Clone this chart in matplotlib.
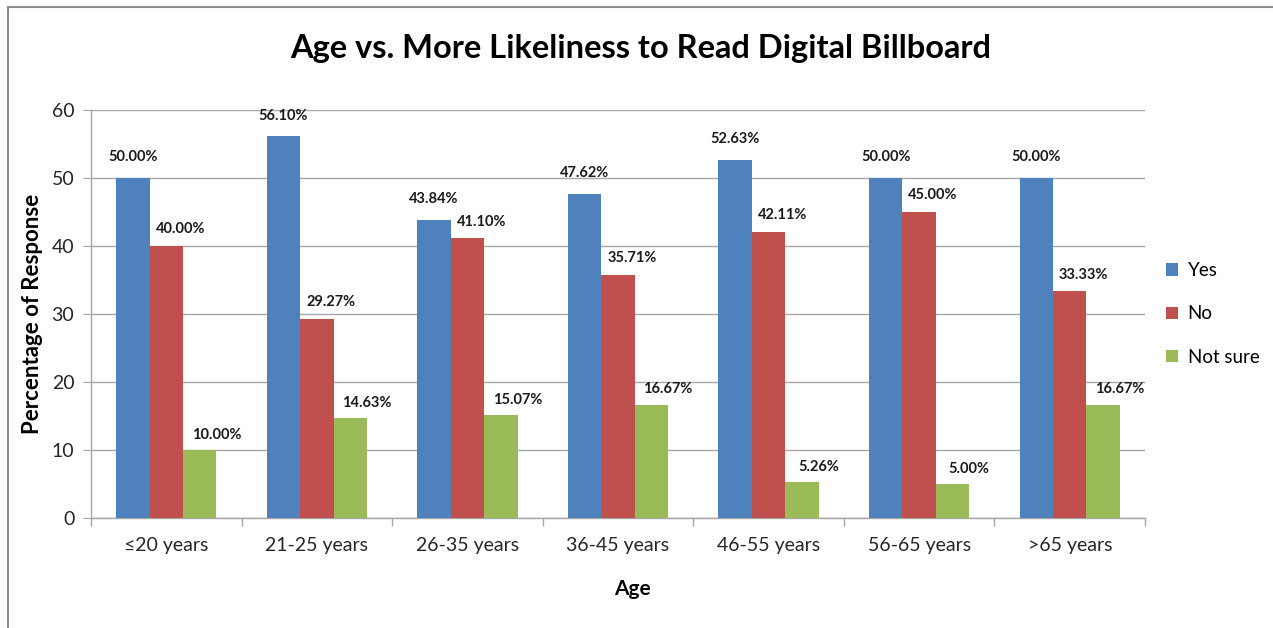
import matplotlib
matplotlib.use("Agg")
import matplotlib.pyplot as plt
import numpy as np
from matplotlib.lines import Line2D

categories = ["≤20 years", "21-25 years", "26-35 years", "36-45 years",
              "46-55 years", "56-65 years", ">65 years"]
yes = [50.00, 56.10, 43.84, 47.62, 52.63, 50.00, 50.00]
no = [40.00, 29.27, 41.10, 35.71, 42.11, 45.00, 33.33]
not_sure = [10.00, 14.63, 15.07, 16.67, 5.26, 5.00, 16.67]
series_names = ["Yes", "No", "Not sure"]

colors = ["#4F81BD", "#C0504D", "#9BBB59"]
grid_col = "#A6A6A6"
font = ["Lato", "DejaVu Sans"]

fig = plt.figure(figsize=(12.73, 6.28), dpi=100)
fig.patch.set_facecolor("white")
ax = fig.add_axes([0.0715, 0.1752, 0.828, 0.6497])

x = np.arange(len(categories))
w = 0.222
label_dx = [0, 10, 12]     # points, label shift to the right
label_dy = [15, 12, 11]    # points above bar top
for i, (vals, name) in enumerate(zip([yes, no, not_sure], series_names)):
    pos = x + (i - 1) * w
    bars = ax.bar(pos, vals, width=w, color=colors[i], label=name, zorder=3)
    for b, v in zip(bars, vals):
        ax.annotate(f"{v:.2f}%", (b.get_x() + b.get_width() / 2, v),
                    xytext=(label_dx[i], label_dy[i]), textcoords="offset points",
                    ha="center", va="center", fontsize=10.5, fontweight="bold",
                    color="#1a1a1a", family=font)

ax.set_xlim(-0.5, len(categories) - 0.5)
ax.set_ylim(0, 60)
ax.set_yticks(range(0, 61, 10))
ax.set_xticks(x)
ax.set_xticklabels(categories)
ax.set_xticks(np.arange(-0.5, len(categories), 1), minor=True)
ax.tick_params(axis="x", which="major", length=0, pad=14, labelsize=14, labelcolor="#262626")
ax.tick_params(axis="x", which="minor", length=6, color=grid_col, width=1)
ax.tick_params(axis="y", length=6, color=grid_col, labelsize=14, labelcolor="#262626", pad=6)
for lab in ax.get_xticklabels() + ax.get_yticklabels():
    lab.set_family(font)

ax.grid(axis="y", color=grid_col, linewidth=1, zorder=0)
for s in ["top", "right"]:
    ax.spines[s].set_visible(False)
for s in ["left", "bottom"]:
    ax.spines[s].set_color(grid_col)
    ax.spines[s].set_linewidth(1)

ax.set_xlabel("Age", fontsize=15, fontweight="bold", family=font, labelpad=18)
ax.xaxis.label.set_x(0.514)
ax.set_ylabel("Percentage of Response", fontsize=16, fontweight="bold", family=font, labelpad=6)

fig.text(0.503, 0.922, "Age vs. More Likeliness to Read Digital Billboard",
         ha="center", va="center", fontsize=23.5, fontweight="bold", family=font)

leg = ax.legend(loc="center left", bbox_to_anchor=(1.02, 0.5), frameon=False, borderpad=0,
                borderaxespad=0, prop={"family": font, "size": 13.5},
                handlelength=0.65, handleheight=0.65, handletextpad=0.5, labelspacing=1.4)

# outer chart frame (left and top edges visible)
fig.add_artist(Line2D([8 / 1273, 8 / 1273], [0, 1 - 7 / 628], transform=fig.transFigure,
                      color="#8C8C8C", linewidth=1.5))
fig.add_artist(Line2D([8 / 1273, 1], [1 - 7 / 628, 1 - 7 / 628], transform=fig.transFigure,
                      color="#8C8C8C", linewidth=1.5))

fig.savefig("out.png", dpi=100, facecolor="white")
